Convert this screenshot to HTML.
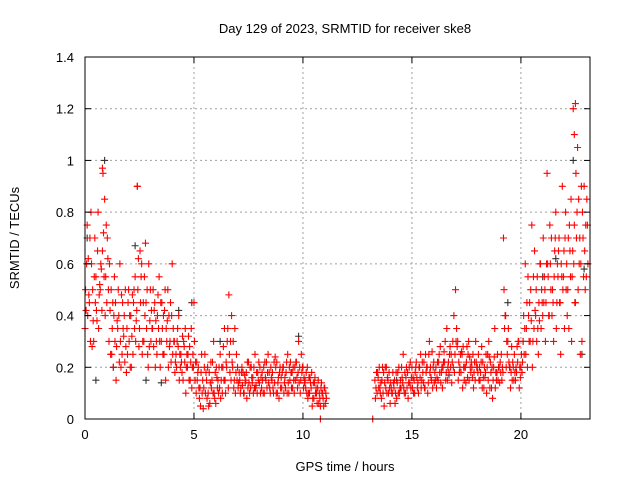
<!DOCTYPE html>
<html><head><meta charset="utf-8">
<style>
html,body{margin:0;padding:0;background:#fff;}
svg{display:block;font-family:"Liberation Sans",sans-serif;}
</style></head>
<body>
<svg id="chart" width="640" height="480" xmlns="http://www.w3.org/2000/svg">
<rect width="640" height="480" fill="#fff"/>
<g id="grid"></g>
<g id="marksBlack"></g>
<g id="marksRed"></g>
<rect x="85" y="57" width="505" height="362" fill="none" stroke="#000" stroke-width="1"/>
<g id="axes"></g>
<text x="345" y="33" font-size="13" text-anchor="middle">Day 129 of 2023, SRMTID for receiver ske8</text>
<text x="345" y="471" font-size="13" text-anchor="middle">GPS time / hours</text>
<text transform="translate(19,238) rotate(-90)" font-size="13" text-anchor="middle">SRMTID / TECUs</text>
</svg>
<script>
const xTicks = [0, 5, 10, 15, 20];
const yTicks = [0, 0.2, 0.4, 0.6, 0.8, 1, 1.2, 1.4];
const yTickLabels = ["0", "0.2", "0.4", "0.6", "0.8", "1", "1.2", "1.4"];
const sampleStepHours = 0.1;
const segmentStarts = [0.0, 13.3];
const seg1A = [.35,.75,.45,.6,.3,.55,.8,.5,.65,.85,.45,
 .3,.5,.2,.45,.35,.6,.25,.4,.18,.5,
 .4,.25,.55,.9,.35,.6,.3,.45,.2,.5,
 .35,.45,.25,.55,.3,.4,.15,.5,.3,.6,
 .3,.2,.4,.25,.15,.35,.2,.28,.12,.45,
 .1,.2,.05,.15,.25,.08,.18,.12,.3,.06,
 .15,.25,.1,.35,.2,.48,.15,.3,.1,.2,
 .15,.2,.1,.18,.22,.12,.16,.25,.1,.14,
 .12,.2,.15,.25,.1,.18,.14,.22,.08,.16,
 .2,.12,.25,.15,.18,.1,.22,.3,.15,.2,
 .15,.2,.1,.18,.08,.12,.15,.05,.1,.12];
const seg1B = [.5,.4,.7,.28,.55,.42,.35,.6,.95,.4,.7,
 .6,.25,.4,.15,.5,.3,.45,.22,.35,.3,
 .2,.45,.3,.5,.65,.25,.55,.35,.6,.3,
 .5,.2,.4,.3,.45,.25,.35,.2,.45,.25,
 .18,.3,.15,.22,.3,.1,.25,.15,.2,.3,
 .22,.12,.18,.04,.1,.2,.06,.15,.1,.2,
 .1,.08,.2,.15,.3,.25,.4,.12,.18,.12,
 .1,.13,.17,.08,.14,.2,.1,.12,.18,.2,
 .18,.1,.22,.14,.2,.12,.24,.1,.18,.12,
 .1,.18,.14,.22,.12,.2,.16,.14,.25,.12,
 .12,.08,.16,.05,.14,.1,.06,.12,.08,.06];
const seg1C = [.42,.62,.3,.5,.7,.38,.48,.58,.72,.55,.62,
 .42,.35,.55,.28,.4,.2,.35,.5,.25,.4,
 .32,.5,.38,.62,.45,.3,.4,.5,.28,.42,
 .28,.38,.48,.2,.35,.42,.3,.4,.22,.35,
 .22,.35,.25,.18,.28,.2,.32,.22,.25,.15,
 .15,.08,.25,.12,.18,.1,.14,.22,.08,.16,
 .2,.15,.28,.1,.35,.18,.22,.15,.25,.14,
 .12,.18,.14,.22,.1,.16,.2,.13,.15,.1,
 .15,.22,.12,.18,.16,.1,.2,.14,.2,.18,
 .14,.22,.1,.18,.2,.15,.12,.2,.18,.16,
 .18,.1,.14,.08,.16,.06,.1,.14,.05,.1];
const seg1D = [.6,.48,.8,.38,.45,.65,.52,.42,.55,.75,.5,
 .25,.45,.3,.38,.22,.48,.32,.28,.45,.2,
 .48,.35,.42,.28,.55,.45,.68,.25,.38,.35,
 .42,.3,.35,.45,.25,.5,.38,.28,.4,.3,
 .25,.28,.2,.32,.22,.25,.15,.35,.2,.22,
 .18,.12,.1,.2,.15,.05,.22,.1,.18,.12,
 .12,.2,.15,.22,.12,.3,.2,.35,.15,.18,
 .18,.1,.15,.12,.2,.14,.12,.18,.22,.16,
 .1,.16,.18,.12,.15,.22,.1,.16,.12,.2,
 .16,.1,.2,.12,.15,.22,.18,.1,.2,.14,
 .1,.16,.12,.14,.1,.12,.08,.1,.12,.08];
const seg2A = [.15,.1,.2,.08,.18,.12,.15,.06,
 .1,.15,.08,.2,.12,.25,.1,.18,.14,.2,
 .15,.22,.1,.25,.18,.12,.2,.3,.15,.22,
 .2,.15,.28,.12,.22,.35,.18,.25,.2,.5,
 .3,.2,.25,.15,.22,.3,.18,.25,.15,.2,
 .2,.28,.12,.25,.15,.22,.08,.35,.18,.2,
 .25,.7,.4,.3,.2,.15,.25,.18,.3,.2,
 .3,.6,.2,.45,.75,.35,.5,.25,.6,.4,
 .5,.95,.4,.7,.3,.8,.55,.45,.9,.35,
 .6,.35,.85,1.2,.45,1.05,.7,.3,.9,.55];
const seg2B = [.08,.18,.12,.15,.05,.2,.1,.14,
 .18,.06,.14,.1,.2,.12,.16,.08,.22,.12,
 .1,.16,.2,.12,.14,.25,.1,.18,.26,.14,
 .12,.22,.14,.2,.3,.15,.25,.14,.4,.3,
 .15,.25,.12,.2,.28,.15,.22,.12,.3,.18,
 .15,.12,.2,.1,.3,.18,.15,.12,.25,.14,
 .15,.5,.2,.35,.12,.22,.18,.28,.12,.25,
 .4,.25,.55,.3,.2,.65,.3,.45,.35,.7,
 .3,.6,.75,.4,.55,.35,.65,.25,.5,.7,
 .4,.75,.3,.6,.95,.5,.25,.8,.65,.85];
const seg2C = [.12,.16,.1,.2,.14,.1,.18,.12,
 .14,.1,.18,.12,.16,.1,.2,.14,.12,.16,
 .18,.12,.2,.15,.22,.18,.14,.2,.12,.18,
 .16,.25,.18,.22,.15,.2,.28,.22,.18,.35,
 .22,.18,.28,.2,.16,.24,.2,.18,.22,.25,
 .18,.22,.16,.2,.24,.12,.2,.18,.15,.22,
 .2,.35,.3,.22,.18,.2,.15,.22,.2,.18,
 .25,.35,.4,.5,.3,.42,.55,.38,.5,.45,
 .45,.55,.6,.5,.65,.45,.7,.6,.55,.8,
 .5,.65,.55,.75,.7,.85,.6,.7,.5,.75];
const seg2D = [.18,.12,.14,.1,.2,.16,.12,.1,
 .12,.18,.1,.15,.14,.18,.12,.2,.16,.1,
 .2,.14,.16,.22,.12,.2,.25,.16,.2,.15,
 .22,.18,.2,.26,.18,.22,.2,.3,.25,.28,
 .18,.26,.2,.14,.25,.2,.16,.22,.2,.15,
 .22,.16,.18,.25,.12,.2,.24,.15,.2,.18,
 .18,.4,.25,.2,.28,.15,.2,.3,.16,.22,
 .35,.45,.3,.38,.55,.4,.35,.6,.45,.55,
 .6,.4,.5,.45,.7,.6,.45,.55,.65,.5,
 .7,.55,.65,.45,.8,.6,.9,.55,.75,.6];
const extraRedHours = [10.8, 13.2, 22.5, 22.45, 0.8, 2.4];
const extraRedValues = [0.0, 0.0, 1.22, 1.1, 0.97, 0.9];
const blackHours = [0.1,0.5,0.9,1.3,2.3,2.8,3.5,4.3,4.9,6.2,9.8,14.3,16.7,19.4,20.1,21.0,22.4,22.8,22.9,21.6];
const blackValues = [.7,.15,1.0,.2,.67,.15,.14,.42,.45,.3,.32,.15,.17,.45,.3,.55,1.0,.25,.58,.62];

const NS = "http://www.w3.org/2000/svg";
const X0 = 85, X1 = 590, Y0 = 419, Y1 = 57, XMAX = 23.17, YMAX = 1.4;
function xs(h){ return X0 + h / XMAX * (X1 - X0); }
function ys(v){ return Y0 - v / YMAX * (Y0 - Y1); }
function mk(tag, attrs, parent){ const e = document.createElementNS(NS, tag); for (const k in attrs) e.setAttribute(k, attrs[k]); parent.appendChild(e); return e; }

const grid = document.getElementById('grid'), axes = document.getElementById('axes');
xTicks.forEach(t => {
  const x = xs(t);
  if (t > 0) {
    const g = mk('line', {x1:x, x2:x, y1:Y1, y2:Y0, stroke:'#a0a0a0', 'stroke-dasharray':'2,3'}, grid);
    
    
  }
  mk('line', {x1:x, x2:x, y1:Y0, y2:Y0-6, stroke:'#000'}, axes);
  mk('line', {x1:x, x2:x, y1:Y1, y2:Y1+6, stroke:'#000'}, axes);
  const tx = mk('text', {x:x, y:Y0+20, 'font-size':13, 'text-anchor':'middle'}, axes);
  tx.textContent = String(t);
  
  
});
yTicks.forEach((t, i) => {
  const y = ys(t);
  if (t > 0 && t < YMAX) {
    const g = mk('line', {x1:X0, x2:X1, y1:y, y2:y, stroke:'#a0a0a0', 'stroke-dasharray':'2,3'}, grid);
    
    
  }
  mk('line', {x1:X0, x2:X0+6, y1:y, y2:y, stroke:'#000'}, axes);
  mk('line', {x1:X1, x2:X1-6, y1:y, y2:y, stroke:'#000'}, axes);
  const tx = mk('text', {x:X0-11, y:y+5, 'font-size':13, 'text-anchor':'end'}, axes);
  tx.textContent = yTickLabels[i];
  
  
});

function plus(parent, h, v, color, name){
  const x = xs(h), y = ys(v);
  const p = mk('path', {d:`M${x-3.5},${y}H${x+3.5}M${x},${y-3.5}V${y+3.5}`, stroke:color, 'stroke-width':1.1, fill:'none'}, parent);
  
  
}
const gB = document.getElementById('marksBlack'), gR = document.getElementById('marksRed');
blackHours.forEach((h, i) => plus(gB, h, blackValues[i], '#333', 'black-point'));
[[[seg1A, seg1B, seg1C, seg1D], segmentStarts[0]], [[seg2A, seg2B, seg2C, seg2D], segmentStarts[1]]].forEach(([arrs, s]) => {
  arrs.forEach((arr, k) => {
    arr.forEach((v, i) => plus(gR, s + i * sampleStepHours + k * 0.025, v, '#ff0000', 'red-point'));
  });
});
extraRedHours.forEach((h, i) => plus(gR, h, extraRedValues[i], '#ff0000', 'red-point'));
</script>
</body></html>
